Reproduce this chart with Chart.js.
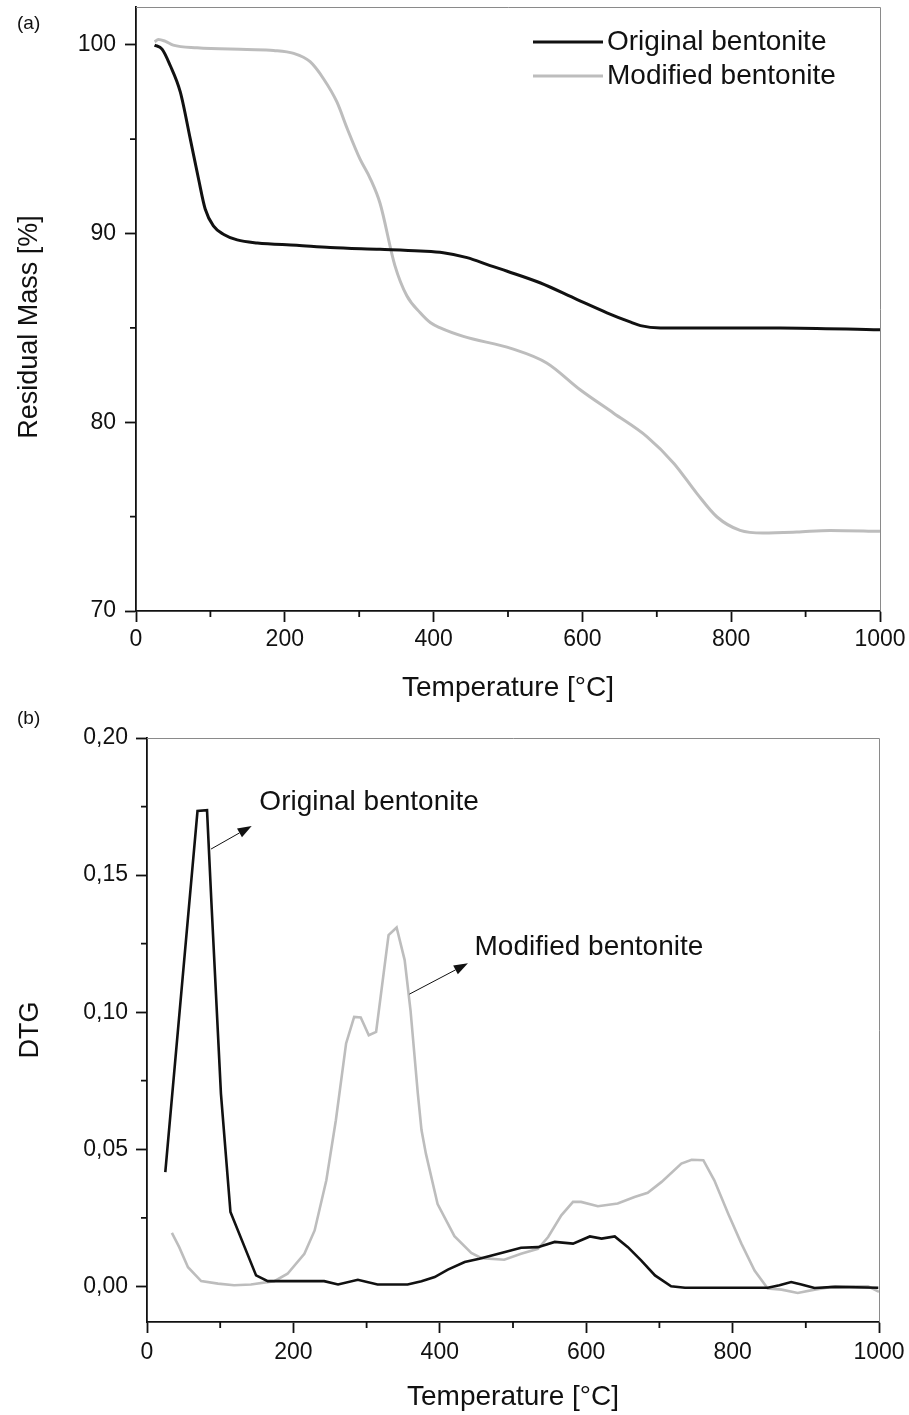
<!DOCTYPE html>
<html>
<head>
<meta charset="utf-8">
<script src="https://cdn.jsdelivr.net/npm/chart.js@4.4.1/dist/chart.umd.min.js"></script>
<style>
  html, body { margin: 0; padding: 0; background: #fff; }
  #wrap { position: relative; width: 909px; height: 1415px; overflow: hidden; }
  canvas { position: absolute; left: 0; }
  #tg { top: 0; }
  #dtg { top: 700px; }
</style>
</head>
<body>
<div id="wrap">
  <canvas id="tg" width="909" height="720"></canvas>
  <canvas id="dtg" width="909" height="715"></canvas>
</div>
<script>
// ---- Thermogravimetric curves: residual mass [%] vs temperature [°C] ----
const TG_T_ORIG = [25, 35, 46, 59.5, 73, 84, 93, 104, 118, 136, 163, 216, 261, 328, 382, 413, 445, 476, 499, 543, 593, 633, 665, 678, 705, 866, 1000];
const TG_ORIG   = [99.98, 99.77, 98.9, 97.5, 95.0, 92.9, 91.3, 90.4, 89.95, 89.66, 89.5, 89.38, 89.26, 89.16, 89.07, 88.98, 88.72, 88.3, 88.0, 87.39, 86.5, 85.8, 85.3, 85.12, 85.0, 85.0, 84.9];

const TG_T_MOD = [25, 30, 39, 50, 82, 149, 185, 212, 234, 252, 270, 284, 301, 315, 328, 348, 364, 382, 396, 409, 440, 505, 552, 597, 642, 687, 723, 754, 781, 812, 843, 888, 933, 1000];
const TG_MOD   = [100.16, 100.28, 100.19, 99.98, 99.84, 99.75, 99.7, 99.54, 99.1, 98.2, 96.97, 95.55, 93.95, 92.9, 91.6, 88.3, 86.7, 85.8, 85.27, 85.0, 84.55, 83.9, 83.14, 81.72, 80.48, 79.23, 77.82, 76.22, 74.98, 74.27, 74.13, 74.18, 74.27, 74.22];

// ---- Derivative curves (DTG) ----
const DTG_T_ORIG = [25, 69, 82, 88, 101, 114, 149, 165, 242, 261, 288, 315, 356, 375, 393, 411, 434, 454, 484, 511, 534, 557, 582, 605, 621, 639, 657, 675, 694, 716, 735, 848, 864, 880, 894, 912, 940, 999];
const DTG_ORIG   = [0.0417, 0.1734, 0.1737, 0.140, 0.0703, 0.0271, 0.004, 0.0019, 0.0019, 0.0007, 0.0024, 0.0007, 0.0007, 0.0019, 0.0034, 0.0061, 0.0089, 0.0101, 0.0122, 0.0141, 0.0143, 0.0162, 0.0156, 0.0182, 0.0174, 0.0182, 0.0143, 0.0095, 0.004, 0.0, -0.0005, -0.0005, 0.0004, 0.0016, 0.0007, -0.0006, -0.0002, -0.0005];

const DTG_T_MOD = [34, 44, 56, 74, 97, 119, 142, 174, 192, 215, 229, 245, 258, 272, 283, 292, 303, 313, 330, 341, 352, 360, 370, 375, 381, 397, 420, 443, 457, 488, 511, 534, 548, 566, 582, 593, 616, 643, 666, 684, 703, 730, 744, 760, 775, 794, 812, 830, 848, 867, 889, 912, 935, 967, 985, 1000];
const DTG_MOD   = [0.0195, 0.0143, 0.0070, 0.0019, 0.0010, 0.0004, 0.0007, 0.0019, 0.0046, 0.0119, 0.0204, 0.0387, 0.0606, 0.0886, 0.0983, 0.0981, 0.0916, 0.0928, 0.1281, 0.1309, 0.119, 0.1007, 0.0703, 0.057, 0.0484, 0.0300, 0.0183, 0.0122, 0.0103, 0.0097, 0.0119, 0.0137, 0.018, 0.0259, 0.0308, 0.0308, 0.0292, 0.0302, 0.0326, 0.0341, 0.0381, 0.0448, 0.0462, 0.046, 0.0387, 0.0265, 0.0156, 0.0058, -0.0008, -0.0012, -0.0024, -0.0012, -0.0002, 0.0, 0.0, -0.002];

// ---- Axis ticks ----
const X_TICKS = [0, 200, 400, 600, 800, 1000];
const X_MINOR = [100, 300, 500, 700, 900];
const TG_TICKS = [70, 80, 90, 100];
const TG_MINOR = [75, 85, 95];
const DTG_TICKS = [0, 0.05, 0.10, 0.15, 0.20];
const DTG_MINOR = [0.025, 0.075, 0.125, 0.175];

const SERIES_NAMES = ['Original bentonite', 'Modified bentonite'];

const FONT = '"Liberation Sans", Arial, Helvetica, sans-serif';
const BLACK = '#111111';
const GREY = '#bdbdbd';

function pts(xs, ys) { return xs.map((x, i) => ({ x: x, y: ys[i] })); }

// minor ticks, top/right frame, panel letter and (optionally) a free-placed y title
function framePlugin(minorX, minorY, letter, letterPos, yTitle) {
  return {
    id: 'frame',
    afterDraw(chart) {
      const ctx = chart.ctx, a = chart.chartArea;
      const xs = chart.scales.x, ys = chart.scales.y;
      ctx.save();
      ctx.strokeStyle = '#8a8a8a';
      ctx.lineWidth = 1;
      ctx.beginPath();
      ctx.moveTo(a.left, a.top + 0.5); ctx.lineTo(a.right + 0.5, a.top + 0.5);
      ctx.lineTo(a.right + 0.5, a.bottom);
      ctx.stroke();
      ctx.strokeStyle = BLACK;
      ctx.lineWidth = 1.8;
      ctx.beginPath();
      minorX.forEach(v => { const p = xs.getPixelForValue(v); ctx.moveTo(p, a.bottom); ctx.lineTo(p, a.bottom + 6); });
      minorY.forEach(v => { const p = ys.getPixelForValue(v); ctx.moveTo(a.left, p); ctx.lineTo(a.left - 6, p); });
      ctx.stroke();
      ctx.fillStyle = BLACK;
      ctx.font = '19px ' + FONT;
      ctx.textBaseline = 'middle';
      ctx.textAlign = 'left';
      ctx.fillText(letter, letterPos[0], letterPos[1]);
      if (yTitle) {
        ctx.translate(yTitle.x, yTitle.y);
        ctx.rotate(-Math.PI / 2);
        ctx.font = '27px ' + FONT;
        ctx.textAlign = 'center';
        ctx.fillText(yTitle.text, 0, 0);
      }
      ctx.restore();
    }
  };
}

const legendPlugin = {
  id: 'lineLegend',
  afterDraw(chart) {
    const ctx = chart.ctx;
    ctx.save();
    chart.data.datasets.forEach((ds, i) => {
      const y = 42 + i * 34;
      ctx.strokeStyle = ds.borderColor;
      ctx.lineWidth = ds.borderWidth;
      ctx.beginPath(); ctx.moveTo(533, y); ctx.lineTo(603, y); ctx.stroke();
      ctx.fillStyle = BLACK;
      ctx.font = '28px ' + FONT;
      ctx.textBaseline = 'middle';
      ctx.textAlign = 'left';
      ctx.fillText(ds.label, 607, y);
    });
    ctx.restore();
  }
};

// labelled arrows pointing at each DTG curve, placed in data coordinates
const ARROWS = [
  { from: [87.5, 0.1595], to: [143, 0.1679], text: [153.5, 0.1764] },
  { from: [358.6, 0.1066], to: [438.4, 0.1178], text: [447.4, 0.1238] }
];
const arrowPlugin = {
  id: 'arrows',
  afterDraw(chart) {
    const ctx = chart.ctx, xs = chart.scales.x, ys = chart.scales.y;
    ctx.save();
    ARROWS.forEach((ar, i) => {
      const x1 = xs.getPixelForValue(ar.from[0]), y1 = ys.getPixelForValue(ar.from[1]);
      const x2 = xs.getPixelForValue(ar.to[0]), y2 = ys.getPixelForValue(ar.to[1]);
      const ang = Math.atan2(y2 - y1, x2 - x1);
      const hl = 14, hw = 5;
      const bx = x2 - hl * Math.cos(ang), by = y2 - hl * Math.sin(ang);
      ctx.strokeStyle = BLACK; ctx.fillStyle = BLACK; ctx.lineWidth = 1;
      ctx.beginPath(); ctx.moveTo(x1, y1); ctx.lineTo(bx, by); ctx.stroke();
      ctx.beginPath();
      ctx.moveTo(x2, y2);
      ctx.lineTo(bx + hw * Math.sin(ang), by - hw * Math.cos(ang));
      ctx.lineTo(bx - hw * Math.sin(ang), by + hw * Math.cos(ang));
      ctx.closePath(); ctx.fill();
      ctx.font = '28px ' + FONT;
      ctx.textBaseline = 'middle'; ctx.textAlign = 'left';
      ctx.fillText(chart.data.datasets[i].label, xs.getPixelForValue(ar.text[0]), ys.getPixelForValue(ar.text[1]));
    });
    ctx.restore();
  }
};

function axisCommon(tickList, fmt, tickPad) {
  return {
    afterBuildTicks: s => { s.ticks = tickList.map(v => ({ value: v })); },
    ticks: { font: { family: FONT, size: 23 }, color: BLACK, padding: tickPad, autoSkip: false, maxRotation: 0, callback: fmt },
    grid: { drawOnChartArea: false, drawTicks: true, tickLength: 11, tickColor: BLACK, tickWidth: 1.8 },
    border: { display: true, color: BLACK, width: 1.8 }
  };
}

Chart.defaults.font.family = FONT;

// (a) residual mass
new Chart(document.getElementById('tg'), {
  type: 'line',
  data: {
    datasets: [
      { label: SERIES_NAMES[0], data: pts(TG_T_ORIG, TG_ORIG), borderColor: BLACK, borderWidth: 3, pointRadius: 0, cubicInterpolationMode: 'monotone', fill: false },
      { label: SERIES_NAMES[1], data: pts(TG_T_MOD, TG_MOD), borderColor: GREY, borderWidth: 3, pointRadius: 0, cubicInterpolationMode: 'monotone', fill: false }
    ]
  },
  options: {
    responsive: false, animation: false, devicePixelRatio: 1,
    layout: { padding: { left: 0, top: 7, right: 29, bottom: 0 } },
    plugins: { legend: { display: false }, tooltip: { enabled: false } },
    scales: {
      x: Object.assign(axisCommon(X_TICKS, v => String(v), 4), {
        type: 'linear', min: 0, max: 1000,
        title: { display: true, text: 'Temperature [°C]', color: BLACK, font: { family: FONT, size: 28 }, padding: { top: 0, bottom: 15 } },
        afterFit: s => { s.height = 109; s.paddingLeft = 0; s.paddingRight = 0; }
      }),
      y: Object.assign(axisCommon(TG_TICKS, v => String(v), 9), {
        type: 'linear', min: 70, max: 102,
        title: { display: false },
        afterFit: s => { s.width = 136; s.paddingTop = 0; s.paddingBottom = 0; }
      })
    }
  },
  plugins: [framePlugin(X_MINOR, TG_MINOR, '(a)', [17, 24], { text: 'Residual Mass [%]', x: 30, y: 327 }), legendPlugin]
});

// (b) DTG
new Chart(document.getElementById('dtg'), {
  type: 'line',
  data: {
    datasets: [
      { label: SERIES_NAMES[0], data: pts(DTG_T_ORIG, DTG_ORIG), borderColor: BLACK, borderWidth: 2.6, pointRadius: 0, tension: 0, fill: false },
      { label: SERIES_NAMES[1], data: pts(DTG_T_MOD, DTG_MOD), borderColor: GREY, borderWidth: 2.6, pointRadius: 0, tension: 0, fill: false }
    ]
  },
  options: {
    responsive: false, animation: false, devicePixelRatio: 1,
    layout: { padding: { left: 0, top: 38, right: 30, bottom: 0 } },
    plugins: { legend: { display: false }, tooltip: { enabled: false } },
    scales: {
      x: Object.assign(axisCommon(X_TICKS, v => String(v), 6), {
        type: 'linear', min: 0, max: 1000,
        title: { display: true, text: 'Temperature [°C]', color: BLACK, font: { family: FONT, size: 28 }, padding: { top: 0, bottom: 1 } },
        afterFit: s => { s.height = 93; s.paddingLeft = 0; s.paddingRight = 0; }
      }),
      y: Object.assign(axisCommon(DTG_TICKS, v => v.toFixed(2).replace('.', ','), 8), {
        type: 'linear', min: -0.013, max: 0.20,
        title: { display: true, text: 'DTG', color: BLACK, font: { family: FONT, size: 27 }, padding: { top: 14, bottom: 0 } },
        afterFit: s => { s.width = 147; s.paddingTop = 0; s.paddingBottom = 0; }
      })
    }
  },
  plugins: [framePlugin(X_MINOR, DTG_MINOR, '(b)', [17, 19]), arrowPlugin]
});
</script>
</body>
</html>
